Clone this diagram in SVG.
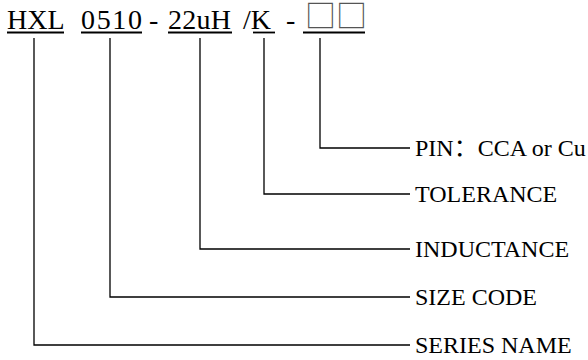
<svg xmlns="http://www.w3.org/2000/svg" width="588" height="360" viewBox="0 0 588 360">
<style>
.t{font-family:"Liberation Serif","Noto Sans CJK SC",serif;font-size:28px;fill:#000}
.l{font-family:"Liberation Serif","Noto Sans CJK SC",serif;font-size:24px;fill:#000}
.sq{font-family:"Noto Sans CJK SC",sans-serif;font-size:31px;fill:#555}
.u{stroke:#000;stroke-width:1.8;fill:none}
.c{stroke:#000;stroke-width:1.3;fill:none}
</style>
<rect width="588" height="360" fill="#fff"/>
<g id="title">
<text class="t" x="7" y="29">HXL</text>
<text class="t" x="81" y="29" textLength="61" lengthAdjust="spacing">0510</text>
<text class="t" x="149" y="29">-</text>
<text class="t" x="168" y="29" textLength="63" lengthAdjust="spacing">22uH</text>
<text class="t" x="243" y="29">/K</text>
<text class="t" x="286" y="29">-</text>
<text class="sq" x="305" y="27">□□</text>
<line class="u" x1="7" y1="32.5" x2="64" y2="32.5"/>
<line class="u" x1="81" y1="32.5" x2="142" y2="32.5"/>
<line class="u" x1="168" y1="32.5" x2="232" y2="32.5"/>
<line class="u" x1="253" y1="32.5" x2="275" y2="32.5"/>
<line class="u" x1="303" y1="32.5" x2="365" y2="32.5"/>
</g>
<g id="connectors">
<polyline class="c" points="320,38 320,148 410,148"/>
<polyline class="c" points="264,38 264,194 410,194"/>
<polyline class="c" points="200,38 200,249 410,249"/>
<polyline class="c" points="110,38 110,297 410,297"/>
<polyline class="c" points="34,38 34,345 410,345"/>
</g>
<g id="pin"><text class="l" x="415" y="156">PIN：CCA or Cu</text></g>
<g id="tolerance"><text class="l" x="415" y="202">TOLERANCE</text></g>
<g id="inductance"><text class="l" x="415" y="257">INDUCTANCE</text></g>
<g id="sizecode"><text class="l" x="415" y="305">SIZE CODE</text></g>
<g id="seriesname"><text class="l" x="415" y="353">SERIES NAME</text></g>
</svg>
